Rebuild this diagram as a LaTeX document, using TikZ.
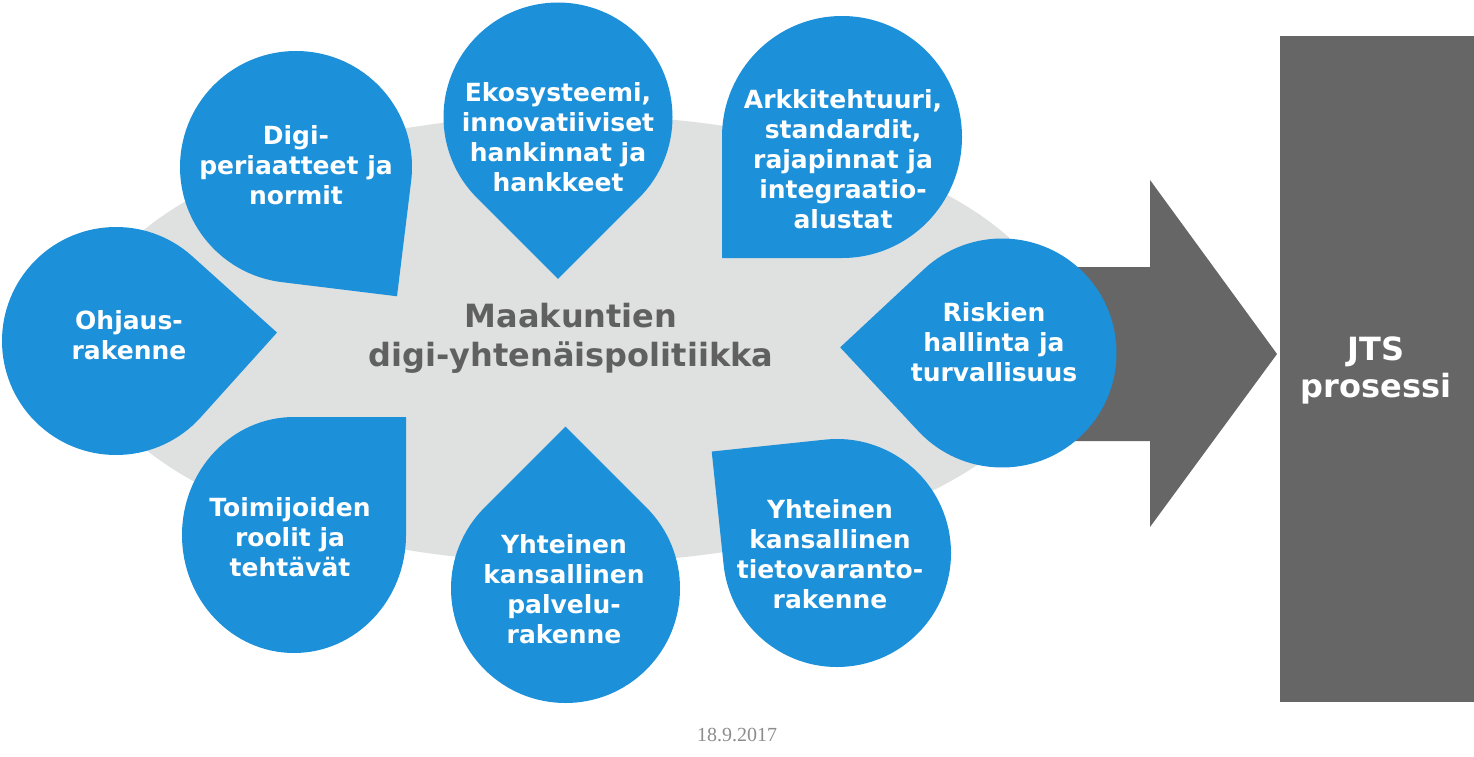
\documentclass[tikz,border=0pt]{standalone}
\usepackage{fontspec}
\setmainfont{DejaVu Sans}
\newfontfamily\datefont{Liberation Serif}
\definecolor{tdblue}{RGB}{28,144,217}
\definecolor{cloudgray}{RGB}{223,224,224}
\definecolor{boxgray}{RGB}{102,102,102}
\definecolor{titlegray}{RGB}{96,96,96}
\definecolor{dategray}{RGB}{140,140,140}
% teardrop: cx, cy, rx, ry, angle of the pointed corner (screen angle, y down)
\newcommand\teardrop[5]{%
  \begin{scope}[shift={(#1,#2)}]
    \fill[tdblue] ({#5+45}:#3 and #4)
      arc[start angle={#5+45}, delta angle=270, x radius=#3, y radius=#4]
      -- ({#5}:{#3*1.41421} and {#4*1.41421}) -- cycle;
  \end{scope}}
\begin{document}
\begin{tikzpicture}[x=1pt,y=-1pt,
  btext/.style={text=white, font=\bfseries\fontsize{25}{30}\selectfont, align=center, inner sep=0pt},
  ttext/.style={text=titlegray, font=\bfseries\fontsize{32}{39}\selectfont, align=center, inner sep=0pt},
  jtext/.style={text=white, font=\bfseries\fontsize{32}{37}\selectfont, align=center, inner sep=0pt},
  dtext/.style={text=dategray, font=\datefont\fontsize{20}{24}\selectfont, inner sep=0pt}]
\useasboundingbox (0,0) rectangle (1474,757);
% cloud
\fill[cloudgray] (572,339) ellipse[x radius=490, y radius=224];
% arrow
\fill[boxgray] (1040,267) -- (1150,267) -- (1150,180) -- (1277,354) -- (1150,527) -- (1150,441) -- (1040,441) -- cycle;
% JTS box
\fill[boxgray] (1280,36) rectangle (1474,702);
% teardrops
\teardrop{116}{341}{114}{114}{-3}
\teardrop{296}{167}{116}{116}{52}
\teardrop{558}{117}{114.5}{114.5}{90}
\teardrop{842}{137}{120}{121}{135}
\teardrop{1002}{353}{114.5}{114.5}{182}
\teardrop{837}{553}{114}{114}{219}
\teardrop{565.5}{588.5}{114.5}{114.5}{-90}
\teardrop{294}{535}{112}{118}{-45}
% texts
\node[ttext] (title) at (571,338) {Maakuntien\\digi-yhtenäispolitiikka};
\node[btext] (ohj) at (129,335) {Ohjaus-\\rakenne};
\node[btext] (digi) at (296,165) {Digi-\\periaatteet ja\\normit};
\node[btext] (eko) at (558,137) {Ekosysteemi,\\innovatiiviset\\hankinnat ja\\hankkeet};
\node[btext] (ark) at (843,159) {Arkkitehtuuri,\\standardit,\\rajapinnat ja\\integraatio-\\alustat};
\node[btext] (ris) at (994,342) {Riskien\\hallinta ja\\turvallisuus};
\node[btext] (tie) at (830,554) {Yhteinen\\kansallinen\\tietovaranto-\\rakenne};
\node[btext] (pal) at (564,589) {Yhteinen\\kansallinen\\palvelu-\\rakenne};
\node[btext] (toi) at (290,537) {Toimijoiden\\roolit ja\\tehtävät};
\node[jtext] (jts) at (1376,370) {JTS\\prosessi};
\node[dtext] (date) at (737,735) {18.9.2017};
\end{tikzpicture}
\end{document}
